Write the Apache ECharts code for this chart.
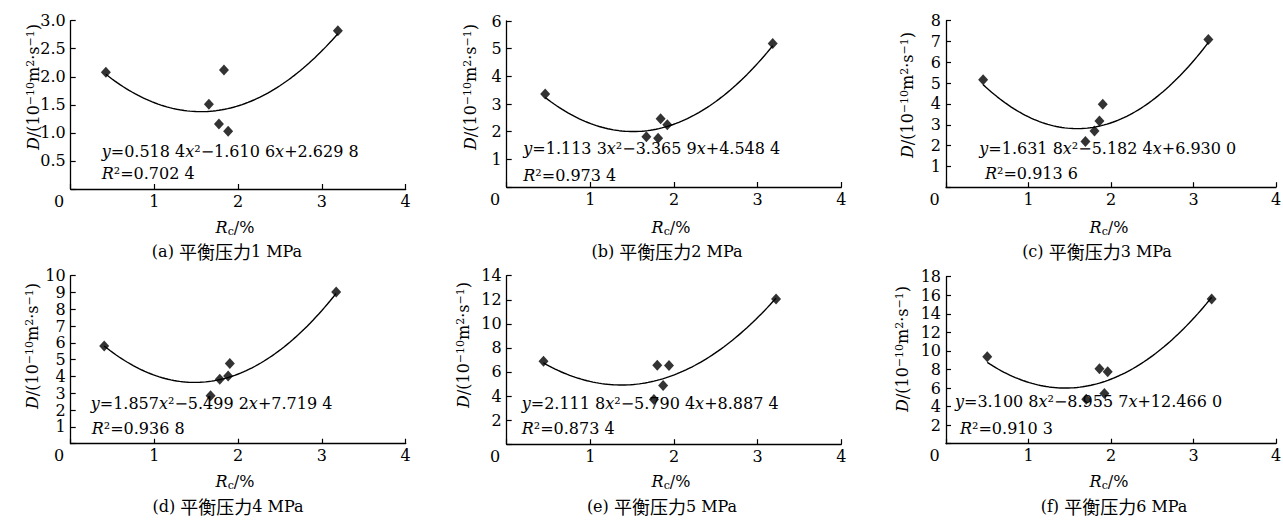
<!DOCTYPE html>
<html><head><meta charset="utf-8">
<script src="https://cdn.jsdelivr.net/npm/echarts@6/dist/echarts.min.js"></script>
<style>html,body{margin:0;padding:0;background:#fff}#c{width:1283px;height:520px}</style>
</head><body><div id="c"></div>
<script>
// ---- data ----
const captions = ['(a) ', '(b) ', '(c) ', '(d) ', '(e) ', '(f) '];
const pressures = ['1 MPa', '2 MPa', '3 MPa', '4 MPa', '5 MPa', '6 MPa'];
const xTicks = [0, 1, 2, 3, 4];

const rc_a = [0.42, 1.65, 1.77, 1.83, 1.88, 3.19];
const d_a  = [2.08, 1.51, 1.16, 2.12, 1.03, 2.82];
const rc_b = [0.46, 1.67, 1.81, 1.84, 1.92, 3.18];
const d_b  = [3.36, 1.82, 1.76, 2.47, 2.25, 5.19];
const rc_c = [0.45, 1.69, 1.80, 1.86, 1.90, 3.18];
const d_c  = [5.16, 2.20, 2.70, 3.18, 3.98, 7.10];
const rc_d = [0.40, 1.67, 1.78, 1.88, 1.90, 3.17];
const d_d  = [5.81, 2.85, 3.83, 4.03, 4.78, 9.03];
const rc_e = [0.44, 1.76, 1.80, 1.87, 1.94, 3.22];
const d_e  = [6.90, 3.72, 6.57, 4.88, 6.54, 12.06];
const rc_f = [0.50, 1.70, 1.86, 1.92, 1.96, 3.22];
const d_f  = [9.38, 4.80, 8.07, 5.41, 7.75, 15.60];

// fitted quadratic coefficients shown in each panel [x^2, x, const]
const coef_a = [0.5184, -1.6106, 2.6298];
const coef_b = [1.1133, -3.3659, 4.5484];
const coef_c = [1.6318, -5.1824, 6.9300];
const coef_d = [1.857, -5.4992, 7.7194];
const coef_e = [2.1118, -5.7904, 8.8874];
const coef_f = [3.1008, -8.9557, 12.4660];

const eqText = [
  '{i|y}=0.518 4{i|x}²−1.610 6{i|x}+2.629 8',
  '{i|y}=1.113 3{i|x}²−3.365 9{i|x}+4.548 4',
  '{i|y}=1.631 8{i|x}²−5.182 4{i|x}+6.930 0',
  '{i|y}=1.857{i|x}²−5.499 2{i|x}+7.719 4',
  '{i|y}=2.111 8{i|x}²−5.790 4{i|x}+8.887 4',
  '{i|y}=3.100 8{i|x}²−8.955 7{i|x}+12.466 0'
];
const r2Text = ['0.702 4', '0.973 4', '0.913 6', '0.936 8', '0.873 4', '0.910 3'];

const yMax = [3, 6, 8, 10, 14, 18];
const yInterval = [0.5, 1, 1, 1, 2, 2];
const yDecimals = [1, 0, 0, 0, 0, 0];

// ---- layout ----
const grids = [
  {left: 70.7, top: 20.7, width: 335, height: 168.3},
  {left: 506.7, top: 21, width: 334.6, height: 166},
  {left: 946, top: 20.7, width: 330, height: 166.5},
  {left: 70.7, top: 275.7, width: 335, height: 168},
  {left: 506.7, top: 275.7, width: 334.6, height: 168.5},
  {left: 946, top: 276.7, width: 330, height: 167}
];
const eqPos = [[101.7, 151], [523.3, 148.3], [979.3, 148.3], [90.7, 403.3], [521.7, 403.3], [955, 401.7]];
const r2Pos = [[101.7, 173.5], [523.3, 175], [985, 173.3], [91.7, 428.3], [521.7, 428.3], [960, 428.3]];
const yNamePos = [[33, 87], [470, 87], [907, 95], [32, 346], [463, 345], [902, 349]];
const xNamePos = [[235, 227], [671, 227], [1109, 227], [235, 481], [671, 481], [1109, 481]];
const capPos = [[227, 251], [667, 251], [1097, 251], [228, 506], [662, 506], [1114, 506]];

const RC = [rc_a, rc_b, rc_c, rc_d, rc_e, rc_f];
const DD = [d_a, d_b, d_c, d_d, d_e, d_f];
const CF = [coef_a, coef_b, coef_c, coef_d, coef_e, coef_f];

const SERIF = "'DejaVu Serif', 'Liberation Serif', serif";
const CJK = "'Noto Sans CJK SC', sans-serif";
const richBase = {
  i: {fontFamily: SERIF, fontStyle: 'italic', fontSize: 16, fill: '#000'},
  n: {fontFamily: SERIF, fontSize: 16, fill: '#000'},
  sup: {fontFamily: SERIF, fontSize: 11, verticalAlign: 'top', fill: '#000'},
  sub: {fontFamily: SERIF, fontSize: 11, verticalAlign: 'bottom', lineHeight: 20, fill: '#000'},
  cjk: {fontFamily: CJK, fontSize: 18, fill: '#000'}
};

const option = {
  animation: false,
  backgroundColor: '#fff',
  grid: [], xAxis: [], yAxis: [], series: [], graphic: []
};

for (let k = 0; k < 6; k++) {
  const g = grids[k];
  option.grid.push({left: g.left, top: g.top, width: g.width, height: g.height,
    containLabel: false, outerBoundsMode: 'none'});
  option.xAxis.push({
    type: 'value', gridIndex: k, min: xTicks[0], max: xTicks[xTicks.length - 1], interval: 1,
    splitLine: {show: false},
    axisLine: {lineStyle: {color: '#000', width: 1.3}},
    axisTick: {inside: true, length: 5, lineStyle: {color: '#000', width: 1.2}},
    axisLabel: {
      color: '#000', fontFamily: SERIF, fontSize: 16, margin: 4,
      formatter: v => v === 0 ? '{z|0}' : String(v),
      rich: {z: {fontFamily: SERIF, fontSize: 16, color: '#000', padding: [0, 23, 0, 0]}}
    }
  });
  option.yAxis.push({
    type: 'value', gridIndex: k, min: 0, max: yMax[k], interval: yInterval[k],
    splitLine: {show: false},
    axisLine: {show: true, lineStyle: {color: '#000', width: 1.3}},
    axisTick: {show: true, inside: true, length: 5, lineStyle: {color: '#000', width: 1.2}},
    axisLabel: {
      color: '#000', fontFamily: SERIF, fontSize: 16, margin: 5,
      formatter: v => v === 0 ? '' : v.toFixed(yDecimals[k])
    }
  });
  // trend line from the displayed fitted equation
  const xs = RC[k], c = CF[k];
  const x0 = Math.min(...xs), x1 = Math.max(...xs);
  const curve = [];
  for (let s = 0; s <= 80; s++) {
    const x = x0 + (x1 - x0) * s / 80;
    curve.push([x, c[0] * x * x + c[1] * x + c[2]]);
  }
  option.series.push({
    type: 'line', xAxisIndex: k, yAxisIndex: k, data: curve, showSymbol: false,
    smooth: false, lineStyle: {color: '#000', width: 1.4}, silent: true, z: 2
  });
  option.series.push({
    type: 'scatter', xAxisIndex: k, yAxisIndex: k,
    data: xs.map((x, i) => [x, DD[k][i]]),
    symbol: 'diamond', symbolSize: [10, 11], itemStyle: {color: '#000'}, z: 3
  });
  // equation and R^2
  option.graphic.push({
    type: 'text', x: eqPos[k][0], y: eqPos[k][1], z: 10,
    style: {text: eqText[k], rich: richBase, fontFamily: SERIF, fontSize: 16, fill: '#000',
      align: 'left', verticalAlign: 'middle'}
  });
  option.graphic.push({
    type: 'text', x: r2Pos[k][0], y: r2Pos[k][1], z: 10,
    style: {text: '{i|R}²=' + r2Text[k], rich: richBase, fontFamily: SERIF, fontSize: 16, fill: '#000',
      align: 'left', verticalAlign: 'middle'}
  });
  // y axis name
  option.graphic.push({
    type: 'text', x: yNamePos[k][0], y: yNamePos[k][1], rotation: Math.PI / 2, z: 10,
    style: {text: '{i|D}/(10{sup|−10}m{sup|2}·s{sup|−1})', rich: richBase,
      fontFamily: SERIF, fontSize: 16, fill: '#000', align: 'center', verticalAlign: 'middle'}
  });
  // x axis name
  option.graphic.push({
    type: 'text', x: xNamePos[k][0], y: xNamePos[k][1], z: 10,
    style: {text: '{i|R}{sub|c}/%', rich: richBase, fontFamily: SERIF, fontSize: 16, fill: '#000',
      align: 'center', verticalAlign: 'middle'}
  });
  // caption
  option.graphic.push({
    type: 'text', x: capPos[k][0], y: capPos[k][1], z: 10,
    style: {text: captions[k] + '{cjk|平衡压力}' + pressures[k], rich: richBase,
      fontFamily: SERIF, fontSize: 16, fill: '#000', align: 'center', verticalAlign: 'middle'}
  });
}

const chart = echarts.init(document.getElementById('c'), null, {renderer: 'svg'});
chart.setOption(option);
</script>
</body></html>
